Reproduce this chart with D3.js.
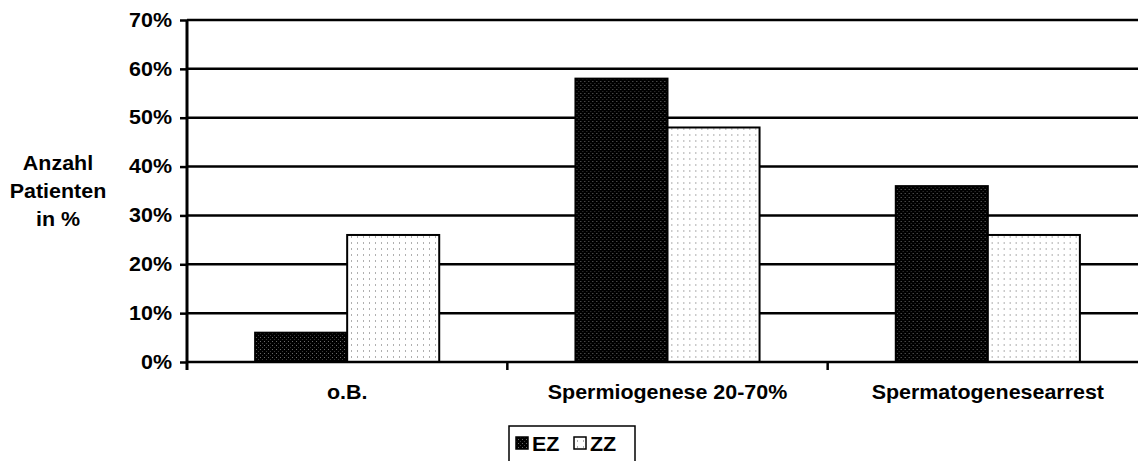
<!DOCTYPE html>
<html>
<head>
<meta charset="utf-8">
<script src="https://cdn.jsdelivr.net/npm/d3@7"></script>
<style>
  html, body { margin: 0; padding: 0; background: #fff; }
  svg { display: block; }
  text { font-family: "Liberation Sans", Arial, sans-serif; font-weight: bold; fill: #000; font-size: 19.5px; }
  /* etwas breitere Schrift */
  .wide-end { transform-box: fill-box; transform-origin: right center; transform: scaleX(1.1); }
  .wide-mid { transform-box: fill-box; transform-origin: center center; transform: scaleX(1.1); }
  .wide-start { transform-box: fill-box; transform-origin: left center; transform: scaleX(1.1); }
</style>
</head>
<body>
<svg id="chart" width="1138" height="461"></svg>
<script>
// Befundkategorien und Anteil der Patienten je Gruppe
const categories = ["o.B.", "Spermiogenese 20-70%", "Spermatogenesearrest"];
const seriesNames = ["EZ", "ZZ"];
const valuesEZ = [0.06, 0.58, 0.36];
const valuesZZ = [0.26, 0.48, 0.26];
const yTicks = [0, 0.1, 0.2, 0.3, 0.4, 0.5, 0.6, 0.7];
const yTitle = ["Anzahl", "Patienten", "in %"];

const svg = d3.select("#chart");
const W = 1138, H = 461;
const margin = { left: 187, top: 20, bottom: 99 };
const plotRight = 1148;

const y = d3.scaleLinear().domain([0, 0.7]).range([H - margin.bottom, margin.top]);
const x0 = d3.scaleBand().domain(categories).range([margin.left, plotRight]).padding(0);
const x1 = d3.scaleBand().domain(seriesNames).range([0, x0.bandwidth()])
  .paddingInner(0).paddingOuter(0.74);

// Füllmuster
const defs = svg.append("defs");
const pDark = defs.append("pattern").attr("id", "patEZ")
  .attr("patternUnits", "userSpaceOnUse").attr("width", 4).attr("height", 4);
pDark.append("rect").attr("width", 4).attr("height", 4).attr("fill", "#000");
pDark.append("rect").attr("x", 1).attr("y", 1).attr("width", 1).attr("height", 1).attr("fill", "#6a6a6a");
pDark.append("rect").attr("x", 3).attr("y", 3).attr("width", 1).attr("height", 1).attr("fill", "#3a3a3a");

const pLight = defs.append("pattern").attr("id", "patZZ")
  .attr("patternUnits", "userSpaceOnUse").attr("width", 6).attr("height", 6);
pLight.append("rect").attr("width", 6).attr("height", 6).attr("fill", "#fff");
pLight.append("rect").attr("x", 2).attr("y", 2).attr("width", 1).attr("height", 2).attr("fill", "#b0b0b0");

const fills = { EZ: "url(#patEZ)", ZZ: "url(#patZZ)" };

// Gitterlinien
svg.append("g").selectAll("line").data(yTicks.filter(d => d > 0)).join("line")
  .attr("x1", margin.left).attr("x2", W)
  .attr("y1", d => y(d)).attr("y2", d => y(d))
  .attr("stroke", "#000").attr("stroke-width", 2.5);

// Balken
const rows = categories.map((c, i) => ({ cat: c, EZ: valuesEZ[i], ZZ: valuesZZ[i] }));
svg.append("g").selectAll("g").data(rows).join("g")
  .attr("transform", d => `translate(${x0(d.cat)},0)`)
  .selectAll("rect").data(d => seriesNames.map(s => ({ s, v: d[s] }))).join("rect")
  .attr("x", d => x1(d.s))
  .attr("y", d => y(d.v))
  .attr("width", x1.bandwidth())
  .attr("height", d => y(0) - y(d.v))
  .attr("fill", d => fills[d.s])
  .attr("stroke", "#000").attr("stroke-width", 2);

// Y-Achse
const yAxis = svg.append("g").attr("transform", `translate(${margin.left},0)`)
  .call(d3.axisLeft(y).tickValues(yTicks).tickFormat(d3.format(".0%")).tickSize(7).tickPadding(8));
yAxis.select(".domain").attr("stroke", "#000").attr("stroke-width", 3)
  .attr("d", `M0,${y(0.7)}V${y(0) + 8}`);
yAxis.selectAll(".tick line").attr("stroke", "#000").attr("stroke-width", 2.5);
yAxis.selectAll(".tick text").attr("class", "wide-end")
  .attr("font-size", null).attr("font-family", null).attr("fill", "#000");
yAxis.attr("font-size", null).attr("font-family", null);

// X-Achse
const xAxis = svg.append("g").attr("transform", `translate(0,${y(0)})`)
  .call(d3.axisBottom(x0).tickSize(0).tickPadding(23));
xAxis.attr("font-size", null).attr("font-family", null);
xAxis.select(".domain").attr("stroke", "#000").attr("stroke-width", 2.5)
  .attr("d", `M${margin.left},0H${W}`);
xAxis.selectAll(".tick text").attr("class", "wide-mid").attr("fill", "#000");
// Trennstriche zwischen den Kategorien
svg.append("g").selectAll("line").data(categories.slice(1)).join("line")
  .attr("x1", d => x0(d)).attr("x2", d => x0(d))
  .attr("y1", y(0)).attr("y2", y(0) + 8)
  .attr("stroke", "#000").attr("stroke-width", 2.5);

// Achsentitel
yTitle.forEach((line, i) => {
  svg.append("text").attr("class", "wide-mid").attr("text-anchor", "middle")
    .attr("x", 58).attr("y", 170 + i * 28).text(line);
});

// Legende
const lg = svg.append("g").attr("transform", "translate(509,426)");
lg.append("rect").attr("x", 0).attr("y", 0).attr("width", 126).attr("height", 40)
  .attr("fill", "#fff").attr("stroke", "#000").attr("stroke-width", 1.5);
const legendX = [7, 65];
seriesNames.forEach((s, i) => {
  lg.append("rect").attr("x", legendX[i]).attr("y", 11).attr("width", 12).attr("height", 12)
    .attr("fill", fills[s]).attr("stroke", "#000").attr("stroke-width", 1.5);
  lg.append("text").attr("class", "wide-start").attr("x", legendX[i] + 16).attr("y", 25).text(s);
});
</script>
</body>
</html>
